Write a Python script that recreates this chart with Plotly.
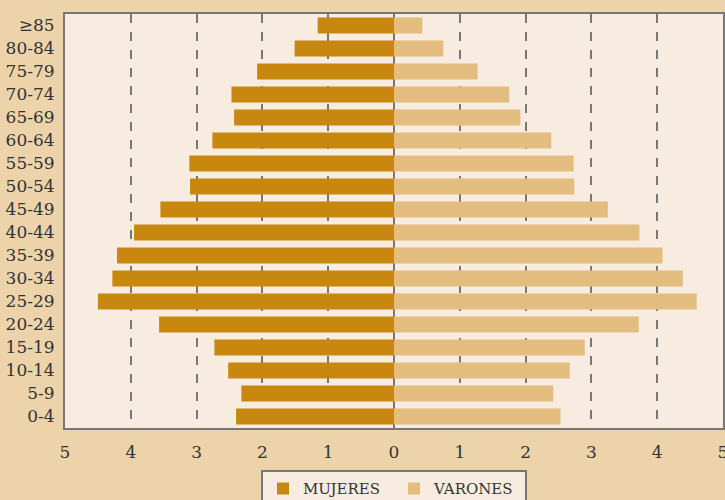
import plotly.graph_objects as go

age_groups = ["0-4", "5-9", "10-14", "15-19", "20-24", "25-29", "30-34", "35-39",
              "40-44", "45-49", "50-54", "55-59", "60-64", "65-69", "70-74",
              "75-79", "80-84", "≥85"]
mujeres = [2.40, 2.32, 2.52, 2.73, 3.57, 4.50, 4.28, 4.21,
           3.95, 3.55, 3.10, 3.11, 2.76, 2.43, 2.47, 2.08, 1.51, 1.16]
varones = [2.53, 2.42, 2.67, 2.90, 3.72, 4.60, 4.39, 4.08,
           3.73, 3.25, 2.74, 2.73, 2.39, 1.92, 1.75, 1.27, 0.75, 0.43]
tick_vals = [-5, -4, -3, -2, -1, 0, 1, 2, 3, 4, 5]
tick_text = ["5", "4", "3", "2", "1", "0", "1", "2", "3", "4", "5"]

FONT = "DejaVu Serif"

fig = go.Figure()
fig.add_trace(go.Bar(
    y=age_groups, x=[-v for v in mujeres], orientation="h", name="MUJERES",
    marker=dict(color="#C8880F", line=dict(width=0)),
    customdata=mujeres, hovertemplate="%{y}: %{customdata}<extra>MUJERES</extra>"))
fig.add_trace(go.Bar(
    y=age_groups, x=varones, orientation="h", name="VARONES",
    marker=dict(color="#E3BC80", line=dict(width=0)),
    hovertemplate="%{y}: %{x}<extra>VARONES</extra>"))

fig.update_layout(
    width=725, height=500,
    margin=dict(l=65, r=2, t=14, b=72, autoexpand=False),
    barmode="relative", bargap=0.3,
    paper_bgcolor="#EDD3AA", plot_bgcolor="#F7ECDF",
    font=dict(family=FONT, size=17, color="#333333"),
    showlegend=True,
    legend=dict(orientation="h", x=0.5, xanchor="center", y=-0.102, yanchor="top",
                bgcolor="#F7ECDF", bordercolor="#777777", borderwidth=2,
                font=dict(family=FONT, size=15, color="#333333"),
                entrywidth=86, itemwidth=30),
    xaxis=dict(range=[-5, 5], tickvals=tick_vals, ticktext=tick_text,
               showgrid=True, gridcolor="#777777", griddash="dash", gridwidth=1.5,
               zeroline=True, zerolinecolor="#777777", zerolinewidth=2,
               showline=True, linecolor="#777777", linewidth=2, mirror=True,
               ticks="", ticklabelstandoff=8, ticklabeloverflow="allow",
               fixedrange=True, automargin=False),
    yaxis=dict(showgrid=False, showline=True, linecolor="#777777", linewidth=2,
               mirror=True, ticks="", ticklabelstandoff=5, fixedrange=True,
               range=[-0.5, 17.5], automargin=False),
)

fig.write_html("out.html", config={"displayModeBar": False},
               post_script="document.body.style.margin='0';document.body.style.overflow='hidden';")
